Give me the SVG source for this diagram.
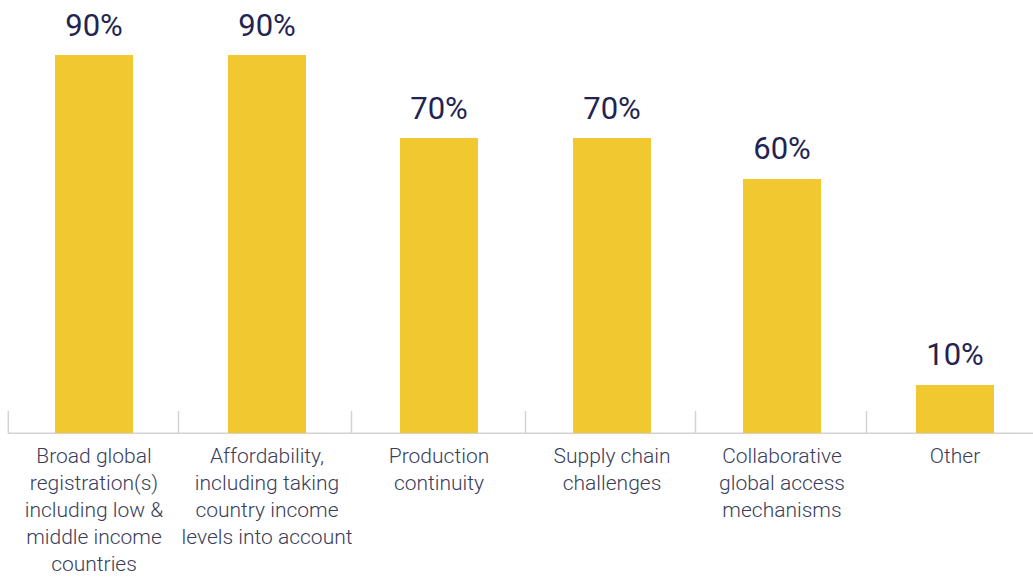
<svg xmlns="http://www.w3.org/2000/svg" width="1033" height="577" viewBox="0 0 1033 577">
<style>
.bar{fill:#F1C82F}
.val{font-family:Roboto,"Liberation Sans",sans-serif;font-size:31px;fill:#1F2452;text-anchor:middle}
.cat{font-family:Roboto,"Liberation Sans",sans-serif;font-size:21px;font-weight:300;fill:#3A3D5A;text-anchor:middle}
.axis{stroke:#D3D3D3;stroke-width:1.5;fill:none}
</style>
<rect width="1033" height="577" fill="#FFFFFF"/>
<g id="axis">
<line class="axis" x1="8" y1="433.3" x2="1033" y2="433.3"/>
<line class="axis" x1="8.3" y1="411" x2="8.3" y2="433.3"/>
<line class="axis" x1="178.5" y1="411" x2="178.5" y2="433.3"/>
<line class="axis" x1="351.5" y1="411" x2="351.5" y2="433.3"/>
<line class="axis" x1="525.5" y1="411" x2="525.5" y2="433.3"/>
<line class="axis" x1="695.5" y1="411" x2="695.5" y2="433.3"/>
<line class="axis" x1="866.5" y1="411" x2="866.5" y2="433.3"/>
</g>
<g id="bar1">
<rect class="bar" x="55" y="55" width="78" height="378"/>
<text class="val" x="94" y="36">90%</text>
<text class="cat" x="94"><tspan x="94" y="463">Broad global</tspan><tspan x="94" y="490">registration(s)</tspan><tspan x="94" y="517">including low &amp;</tspan><tspan x="94" y="544">middle income</tspan><tspan x="94" y="571">countries</tspan></text>
</g>
<g id="bar2">
<rect class="bar" x="228" y="55" width="78" height="378"/>
<text class="val" x="267" y="36">90%</text>
<text class="cat" x="267"><tspan x="267" y="463">Affordability,</tspan><tspan x="267" y="490">including taking</tspan><tspan x="267" y="517">country income</tspan><tspan x="267" y="544">levels into account</tspan></text>
</g>
<g id="bar3">
<rect class="bar" x="400" y="138" width="78" height="295"/>
<text class="val" x="439" y="119">70%</text>
<text class="cat" x="439"><tspan x="439" y="463">Production</tspan><tspan x="439" y="490">continuity</tspan></text>
</g>
<g id="bar4">
<rect class="bar" x="573" y="138" width="78" height="295"/>
<text class="val" x="612" y="119">70%</text>
<text class="cat" x="612"><tspan x="612" y="463">Supply chain</tspan><tspan x="612" y="490">challenges</tspan></text>
</g>
<g id="bar5">
<rect class="bar" x="743" y="179" width="78" height="254"/>
<text class="val" x="782" y="159">60%</text>
<text class="cat" x="782"><tspan x="782" y="463">Collaborative</tspan><tspan x="782" y="490">global access</tspan><tspan x="782" y="517">mechanisms</tspan></text>
</g>
<g id="bar6">
<rect class="bar" x="916" y="385" width="78" height="48"/>
<text class="val" x="955" y="365">10%</text>
<text class="cat" x="955"><tspan x="955" y="463">Other</tspan></text>
</g>
</svg>
